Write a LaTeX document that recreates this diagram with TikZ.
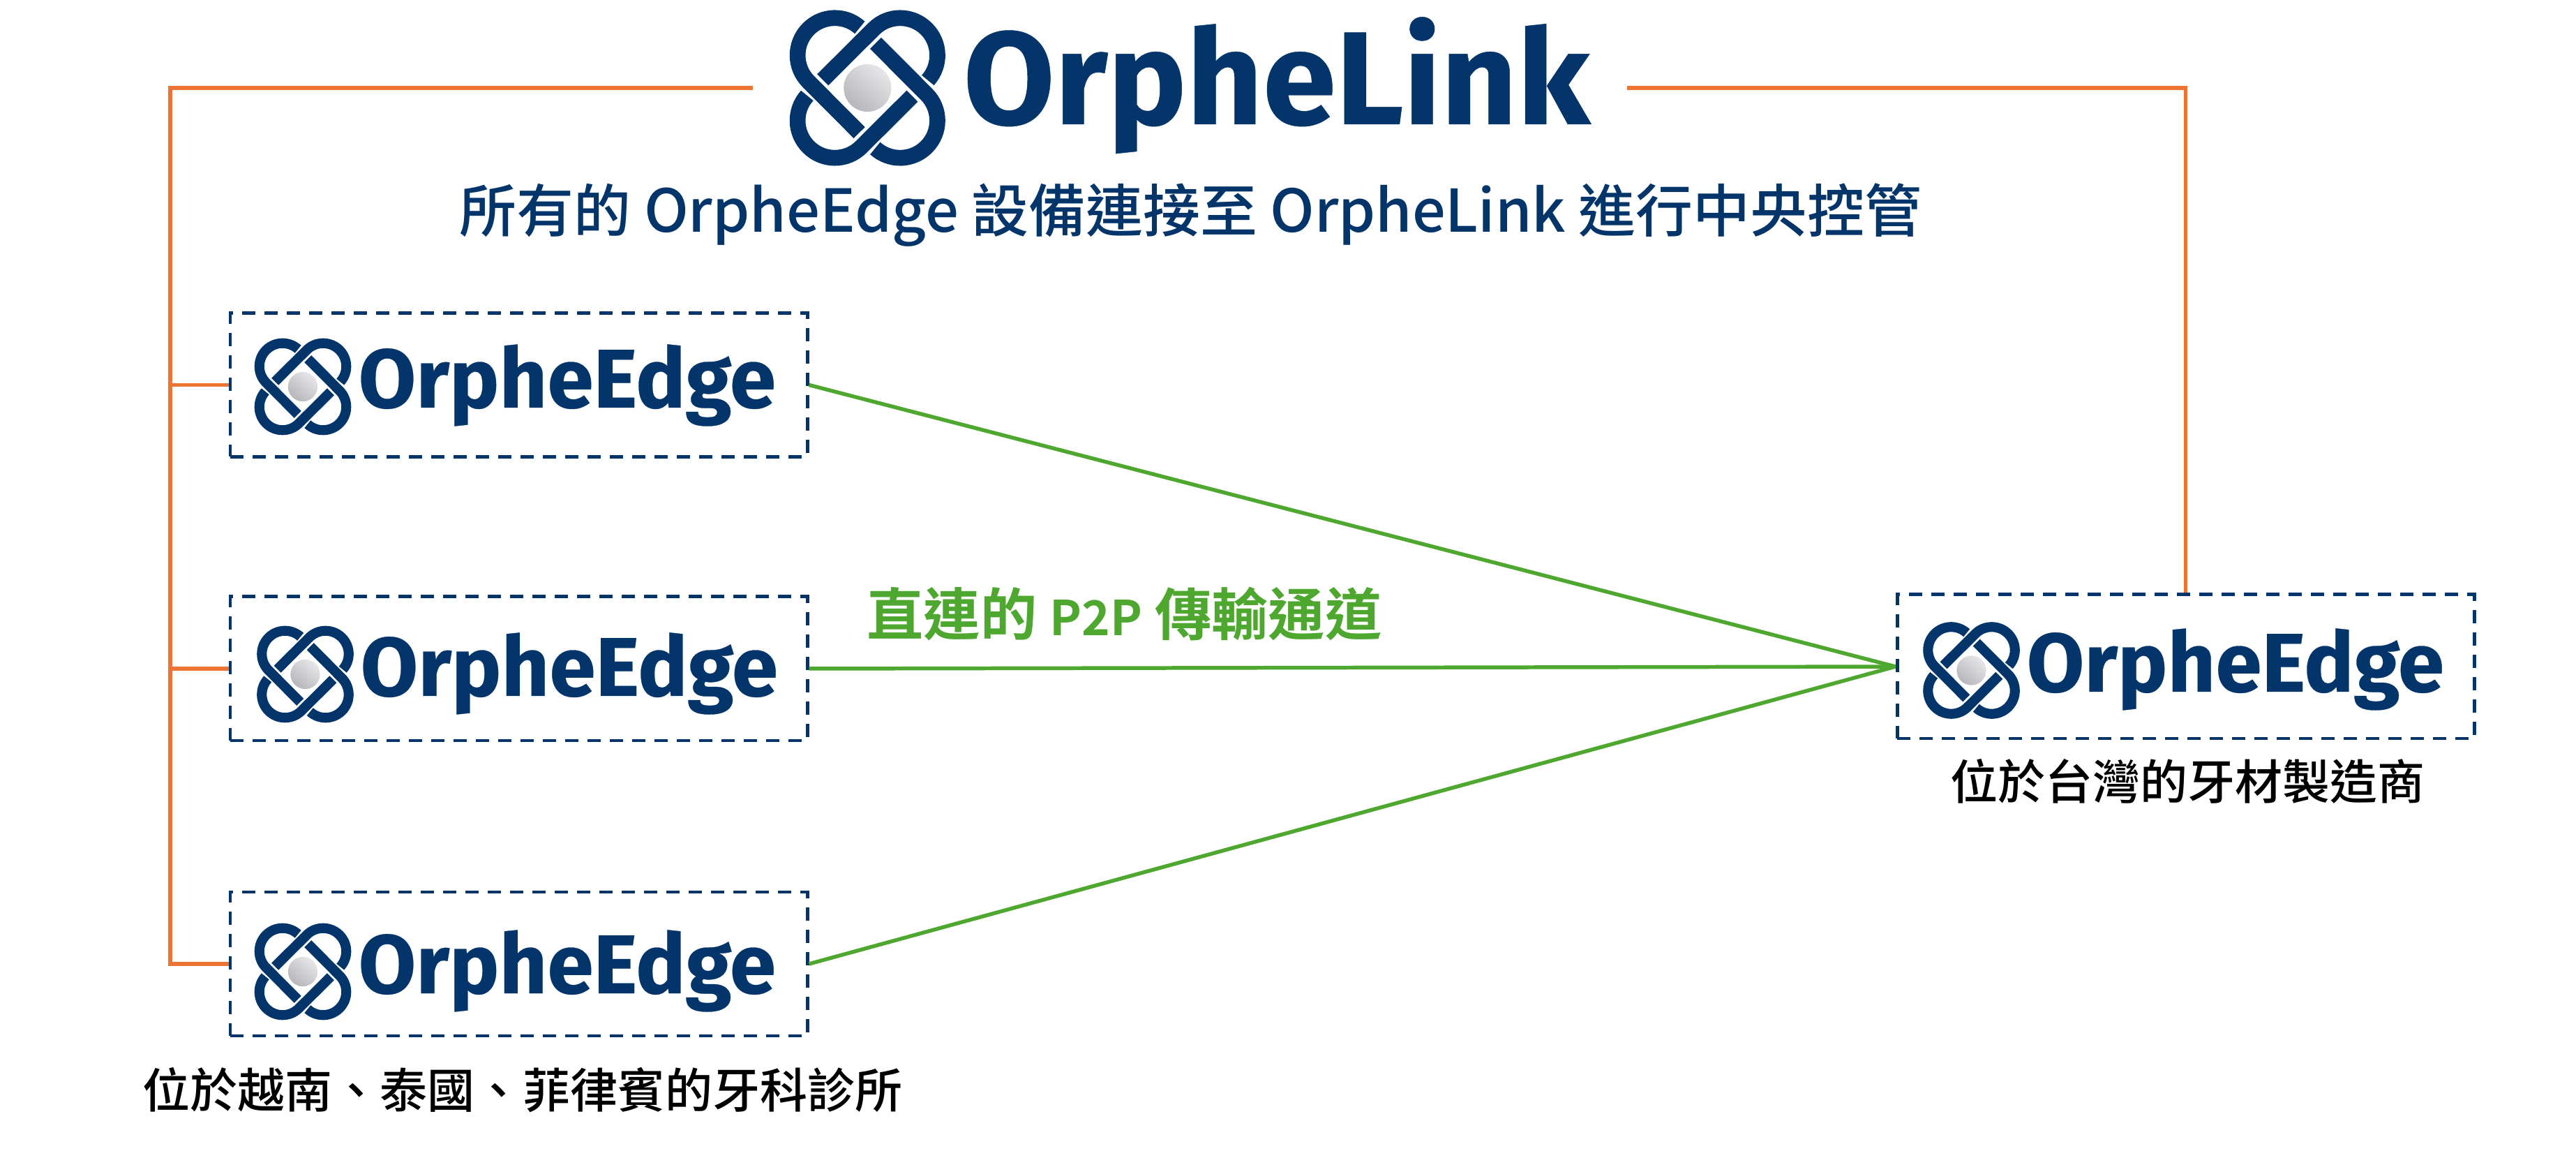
\documentclass[tikz,border=0pt]{standalone}
\usepackage{fontspec}
\usepackage{xcolor}
\usepackage{tikz}
\newfontfamily\brandfont{Fira Sans}[BoldFeatures={FakeBold=0.25}]
\newfontfamily\cjkfont{Noto Sans CJK TC}[UprightFont=* Medium,BoldFont=* Bold]
\definecolor{navy}{HTML}{03356A}
\definecolor{linkorange}{HTML}{ED7533}
\definecolor{p2pgreen}{HTML}{4EA72E}
\definecolor{ballLight}{HTML}{E6E6E8}
\definecolor{ballMid}{HTML}{C8C9CC}
\definecolor{ballDark}{HTML}{B6B7BB}
\tikzset{
  edgeBox/.style={draw=navy, line width=1.42pt, dash pattern=on 0.19cm off 0.13cm, minimum width=8.27cm, minimum height=2.06cm, inner sep=0pt},
  edgeLbl/.style={anchor=base west, inner sep=0pt, text=navy, font=\brandfont\bfseries\fontsize{34}{40}\selectfont},
  linkLbl/.style={anchor=base west, inner sep=0pt, text=navy, font=\brandfont\bfseries\fontsize{53.9}{64}\selectfont},
  subLbl/.style={anchor=base, inner sep=0pt, text=navy, font=\cjkfont\fontsize{23.3}{28}\selectfont},
  greenLbl/.style={anchor=base, inner sep=0pt, text=p2pgreen, font=\cjkfont\bfseries\fontsize{23.1}{28}\selectfont},
  siteLbl/.style={anchor=base, inner sep=0pt, text=black, font=\cjkfont\fontsize{19.35}{24}\selectfont},
  linkLine/.style={draw=linkorange, line width=1.56pt},
  p2pLine/.style={draw=p2pgreen, line width=1.56pt},
}
% logo mark: centre, scale
\newcommand{\OrpheMark}[2]{%
  \begin{scope}[shift={(#1)}, scale=#2]
    \foreach \ang in {0,-90,-180,-270} {
      \draw[navy, line width=#2*0.68cm, rotate=\ang]
        (-0.35,-1.92) -- (-2.531,0.269) arc[start angle=225, end angle=48, radius=1.6];
    }
    \shade[left color=ballLight, middle color=ballMid, right color=ballDark, shading angle=-40] (0,0) circle (1.02);
  \end{scope}
}
% box: name, box centre, mark centre, baseline start of text
\newcommand{\EdgeUnit}[4]{%
  \node[edgeBox] (#1) at (#2) {};
  \OrpheMark{#3}{0.2075}
  \node[edgeLbl] (#1Name) at (#4) {OrpheEdge};
}

\begin{document}
\begin{tikzpicture}
  \useasboundingbox (0,0) rectangle (36.92,16.48);

  % top logo
  \OrpheMark{12.433,15.22}{0.334}
  \node[linkLbl] (linkName) at (13.80,14.70) {OrpheLink};
  \node[subLbl] (linkNote) at (17.065,13.15) {所有的 {\fontsize{24.1}{28}\selectfont OrpheEdge} 設備連接至 {\fontsize{24}{28}\selectfont OrpheLink} 進行中央控管};

  % devices
  \EdgeUnit{edgeA}{7.435,10.965}{4.34,10.94}{5.13,10.64}
  \EdgeUnit{edgeB}{7.435,6.90}{4.375,6.82}{5.16,6.51}
  \EdgeUnit{edgeC}{7.435,2.67}{4.34,2.56}{5.13,2.25}
  \EdgeUnit{edgeR}{31.325,6.93}{28.255,6.875}{29.04,6.57}

  \coordinate (linkWest) at (10.79,15.22);
  \coordinate (linkEast) at (23.32,15.22);
  \coordinate (trunkTop) at (2.44,15.22);

  \draw[linkLine] (linkWest) -- (trunkTop) |- (edgeC.west);
  \draw[linkLine] (trunkTop |- edgeA.west) -- (edgeA.west);
  \draw[linkLine] (trunkTop |- edgeB.west) -- (edgeB.west);
  \draw[linkLine] (linkEast) -| (edgeR.north);

  \draw[p2pLine] (edgeA.east) -- (edgeR.west);
  \draw[p2pLine] (edgeB.east) -- (edgeR.west);
  \draw[p2pLine] (edgeC.east) -- (edgeR.west);

  \node[greenLbl] (p2pNote) at (16.115,7.37) {直連的 {\fontsize{19.6}{28}\selectfont P2P} 傳輸通道};
  \node[siteLbl] (siteLeft) at (7.49,0.61) {位於越南、泰國、菲律賓的牙科診所};
  \node[siteLbl] (siteRight) at (31.35,5.02) {位於台灣的牙材製造商};
\end{tikzpicture}
\end{document}
